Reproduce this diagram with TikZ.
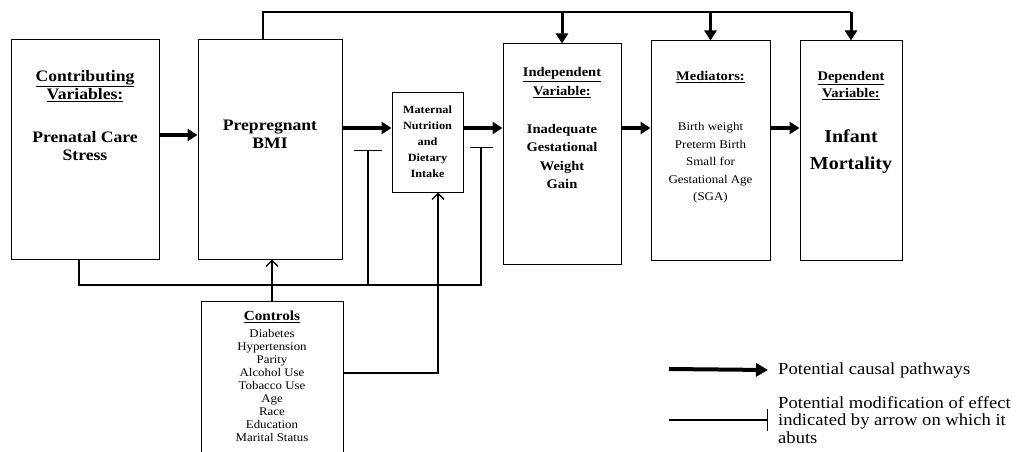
\documentclass[tikz,border=0pt]{standalone}
\usepackage{fontspec}
\setmainfont[FakeStretch=1.1]{Liberation Serif}
\usetikzlibrary{arrows.meta}

\begin{document}
\begin{tikzpicture}[x=1pt, y=-1pt,
    box/.style = {draw, line width=1pt, inner sep=0pt},
    txt/.style = {align=center, inner sep=0pt},
    causal/.style = {line width=3.5pt, -{Triangle[length=10pt,width=12pt]}},
    modify/.style = {line width=1.2pt, -{Bar[width=#1]}},
    control/.style = {line width=1.3pt, -{Straight Barb[length=6pt,width=12pt]}}]
  \useasboundingbox (0,0) rectangle (1023,452);

  % boxes
  \node[box, minimum width=148pt, minimum height=219pt] (contrib) at (85,149.5) {};
  \node[box, minimum width=144pt, minimum height=219pt] (bmi) at (270,149.5) {};
  \node[box, minimum width=71pt, minimum height=100pt] (nutr) at (427.5,142) {};
  \node[box, minimum width=118pt, minimum height=220pt] (igwg) at (562,154) {};
  \node[box, minimum width=119pt, minimum height=219pt] (med) at (710.5,150.5) {};
  \node[box, minimum width=102pt, minimum height=219pt] (mort) at (851,150.5) {};
  \node[box, minimum width=142pt, minimum height=172pt] (ctrl) at (272,387) {};

  % texts
  \node[txt, font=\bfseries\fontsize{16}{18}\selectfont] (contribhead) at (85,86)
    {\underline{Contributing}\\\underline{Variables:}};
  \node[txt, font=\bfseries\fontsize{16}{18}\selectfont] (contribtext) at (85,146)
    {Prenatal Care\\Stress};
  \node[txt, font=\bfseries\fontsize{16}{18}\selectfont] (bmitext) at (270,134)
    {Prepregnant\\BMI};
  \node[txt, font=\bfseries\fontsize{11.1}{16}\selectfont] (nutrtext) at (427.5,142)
    {Maternal\\Nutrition\\and\\Dietary\\Intake};
  \node[txt, font=\bfseries\fontsize{13.2}{18.5}\selectfont] (igwghead) at (562,82.5)
    {\underline{Independent}\\\underline{Variable:}};
  \node[txt, font=\bfseries\fontsize{13.2}{18.3}\selectfont] (igwgtext) at (562,156.5)
    {Inadequate\\Gestational\\Weight\\Gain};
  \node[txt, font=\bfseries\fontsize{13.2}{18}\selectfont] (medhead) at (710.5,77)
    {\underline{Mediators:}};
  \node[txt, font=\fontsize{11.8}{17.5}\selectfont] (medtext) at (710.5,163)
    {Birth weight\\Preterm Birth\\Small for\\Gestational Age\\(SGA)};
  \node[txt, font=\bfseries\fontsize{13.2}{17.5}\selectfont] (morthead) at (851,85.5)
    {\underline{Dependent}\\\underline{Variable:}};
  \node[txt, font=\bfseries\fontsize{18.2}{27}\selectfont] (morttext) at (851,151.5)
    {Infant\\Mortality};
  \node[txt, font=\bfseries\fontsize{13.8}{15}\selectfont] (ctrlhead) at (272,317)
    {\underline{Controls}};
  \node[txt, font=\fontsize{11.7}{13.1}\selectfont] (ctrltext) at (272,385.5)
    {Diabetes\\Hypertension\\Parity\\Alcohol Use\\Tobacco Use\\Age\\Race\\Education\\Marital Status};

  % causal pathways
  \coordinate (rowA) at (0,135);
  \coordinate (rowB) at (0,128);
  \draw[causal] (contrib.east |- rowA) -- (bmi.west |- rowA);
  \draw[causal] (bmi.east |- rowB) -- (nutr.west |- rowB);
  \draw[causal] (nutr.east |- rowB) -- (igwg.west |- rowB);
  \draw[causal] (igwg.east |- rowB) -- (med.west |- rowB);
  \draw[causal] (med.east |- rowB) -- (mort.west |- rowB);

  \coordinate (topline) at (0,12);
  \draw[line width=1.2pt] ([xshift=-7pt]bmi.north) |- (mort.north |- topline);
  \foreach \b in {igwg, med, mort}
    \draw[causal, line width=3pt] (\b.north |- topline) -- (\b.north);

  % effect modifiers
  \coordinate (mod1) at (368,150);
  \coordinate (mod2) at (481,147);
  \coordinate (bottomline) at (0,285);
  \draw[modify=23pt] ([xshift=-6pt]contrib.south) |- (mod2 |- bottomline) -- (mod2);
  \draw[modify=28pt] (mod1 |- bottomline) -- (mod1);

  % controls
  \coordinate (ctrlout) at (0,373);
  \draw[control] (ctrl.north) -- (ctrl.north |- bmi.south);
  \draw[control] (ctrl.east |- ctrlout) -| ([xshift=10.5pt]nutr.south);

  % legend
  \node[txt, anchor=west, font=\fontsize{16.9}{17.5}\selectfont] (causaltext) at (778,370)
    {Potential causal pathways};
  \node[txt, anchor=west, align=left, font=\fontsize{16.9}{17.5}\selectfont] (modtext) at (778,420)
    {Potential modification of effect\\indicated by arrow on which it\\abuts};
  \draw[causal, line width=4pt, -{Triangle[length=12pt,width=13pt]}] (669,369) -- ([xshift=-10pt]causaltext.west);
  \draw[modify=22pt] (669,420) -- ([xshift=-10pt]modtext.west);
\end{tikzpicture}
\end{document}
